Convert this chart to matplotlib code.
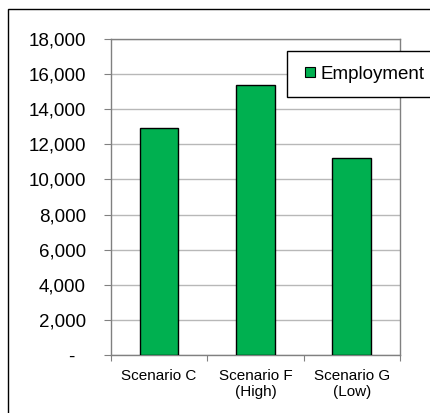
import matplotlib.pyplot as plt
from matplotlib.lines import Line2D
from matplotlib.patches import Rectangle

plt.rcParams['font.family'] = ['Liberation Sans', 'DejaVu Sans']

# employment by scenario
scenarios = ['Scenario C', 'Scenario F\n(High)', 'Scenario G\n(Low)']
employment = [12950, 15400, 11200]
yticks = [0, 2000, 4000, 6000, 8000, 10000, 12000, 14000, 16000, 18000]
ytick_labels = ['-  ', '2,000', '4,000', '6,000', '8,000', '10,000',
                '12,000', '14,000', '16,000', '18,000']
bar_color = '#00B050'

fig = plt.figure(figsize=(4.3, 4.13), dpi=100)
ax = fig.add_axes([0.258, 0.1404, 0.672, 0.7652])

x = range(len(scenarios))
ax.bar(x, employment, width=0.4, color=bar_color, edgecolor='black',
       linewidth=1, zorder=3)

ax.set_xlim(-0.5, 2.5)
ax.set_ylim(0, 18000)
ax.set_yticks(yticks)
ax.set_yticklabels(ytick_labels, fontsize=13.5)
ax.yaxis.grid(True, color='#b8b8b8', linewidth=1, zorder=0)

# category labels sit between the boundary ticks
ax.set_xticks([-0.5, 0.5, 1.5, 2.5])
ax.set_xticklabels([])
ax.set_xticks(list(x), minor=True)
ax.set_xticklabels(scenarios, minor=True, fontsize=11, linespacing=1.15)
ax.tick_params(axis='x', which='minor', length=0, pad=10)
ax.tick_params(axis='x', which='major', length=4, color='#808080')
ax.tick_params(axis='y', length=5, color='#808080', pad=13)

for s in ax.spines.values():
    s.set_color('#808080')
    s.set_linewidth(1)

handle = Line2D([], [], linestyle='none', marker='s', markersize=7.2,
                markerfacecolor=bar_color, markeredgecolor='black',
                markeredgewidth=0.8)
leg = ax.legend([handle], ['Employment'], loc='upper left',
                bbox_to_anchor=(287 / 430, 1 - 51 / 413),
                bbox_transform=fig.transFigure, fontsize=13.5, frameon=True,
                fancybox=False, borderpad=0.78, handlelength=0.85,
                handletextpad=0.15, borderaxespad=0)
leg.get_frame().set_edgecolor('black')
leg.get_frame().set_linewidth(1)
leg.get_frame().set_alpha(1)

# outer chart frame
fig.patches.append(Rectangle((8 / 430, -0.1), 1.2, 1 - 9 / 413 + 0.1,
                             transform=fig.transFigure, fill=False,
                             edgecolor='black', linewidth=1))

fig.savefig('out.png', dpi=100)
